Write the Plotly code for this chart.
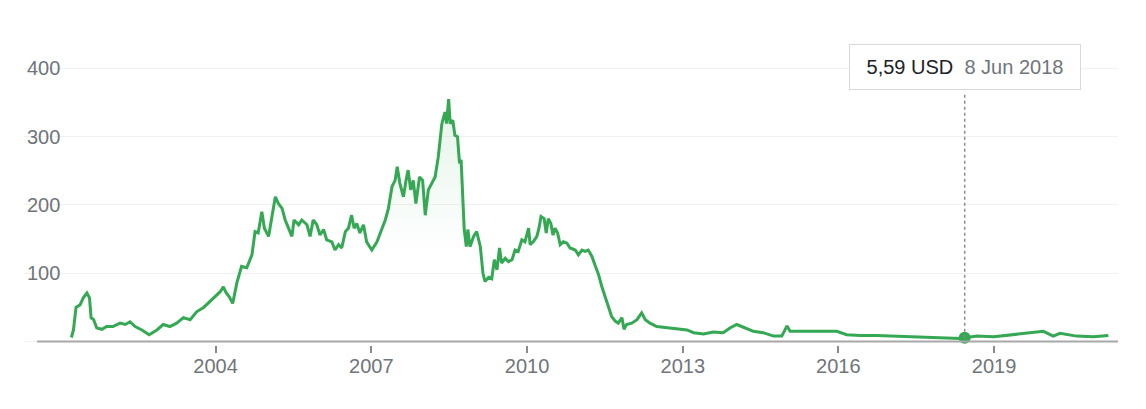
import plotly.graph_objects as go
import pandas as pd

# time as decimal years, price in USD
t_years = [2001.22, 2001.26, 2001.31, 2001.39, 2001.45, 2001.52, 2001.57, 2001.60, 2001.65, 2001.71,
           2001.81, 2001.90, 2002.02, 2002.16, 2002.26, 2002.35, 2002.45, 2002.58, 2002.72, 2002.87,
           2002.99, 2003.12, 2003.25, 2003.38, 2003.51, 2003.64, 2003.77, 2003.89, 2004.02, 2004.09,
           2004.15, 2004.20, 2004.26, 2004.33, 2004.41, 2004.50, 2004.60, 2004.70, 2004.76, 2004.82,
           2004.89, 2004.94, 2005.02, 2005.08, 2005.15, 2005.21, 2005.28, 2005.34, 2005.40, 2005.47,
           2005.51, 2005.60, 2005.66, 2005.76, 2005.82, 2005.88, 2005.95, 2006.01, 2006.08, 2006.14,
           2006.24, 2006.30, 2006.37, 2006.43, 2006.50, 2006.56, 2006.62, 2006.67, 2006.72, 2006.78,
           2006.85, 2006.91, 2007.01, 2007.11, 2007.20, 2007.27, 2007.33, 2007.40, 2007.46, 2007.50,
           2007.55, 2007.62, 2007.67, 2007.71, 2007.76, 2007.81, 2007.86, 2007.93, 2007.99, 2008.04,
           2008.10, 2008.17, 2008.23, 2008.29, 2008.36, 2008.42, 2008.45, 2008.49, 2008.52, 2008.57,
           2008.61, 2008.66, 2008.70, 2008.73, 2008.76, 2008.79, 2008.83, 2008.86, 2008.90, 2008.97,
           2009.03, 2009.10, 2009.15, 2009.19, 2009.26, 2009.32, 2009.37, 2009.42, 2009.47, 2009.51,
           2009.58, 2009.64, 2009.71, 2009.77, 2009.83, 2009.90, 2009.96, 2010.03, 2010.06, 2010.12,
           2010.19, 2010.23, 2010.27, 2010.33, 2010.37, 2010.41, 2010.46, 2010.50, 2010.54, 2010.59,
           2010.64, 2010.70, 2010.77, 2010.83, 2010.93, 2010.99, 2011.06, 2011.12, 2011.18, 2011.25,
           2011.31, 2011.38, 2011.44, 2011.50, 2011.57, 2011.63, 2011.70, 2011.76, 2011.83, 2011.87,
           2011.92, 2012.02, 2012.12, 2012.21, 2012.28, 2012.37, 2012.50, 2012.69, 2012.89, 2013.08,
           2013.21, 2013.40, 2013.59, 2013.78, 2013.91, 2014.04, 2014.17, 2014.36, 2014.55, 2014.75,
           2014.91, 2015.01, 2015.07, 2015.26, 2015.52, 2015.78, 2015.97, 2016.16, 2016.42, 2016.74,
           2017.06, 2017.38, 2017.70, 2018.02, 2018.35, 2018.44, 2018.67, 2018.99, 2019.31, 2019.63,
           2019.95, 2020.14, 2020.27, 2020.59, 2020.91, 2021.20]
price = [6, 17, 50, 54, 64, 71, 64, 35, 32, 20,
         18, 22, 22, 27, 25, 29, 22, 17, 10, 17,
         25, 22, 27, 35, 32, 44, 50, 59, 69, 73,
         80, 72, 66, 56, 86, 110, 108, 127, 161, 159,
         190, 166, 154, 183, 212, 202, 195, 178, 166, 154,
         178, 171, 178, 171, 154, 178, 171, 156, 164, 149,
         146, 134, 142, 137, 161, 166, 185, 166, 173, 159,
         171, 146, 134, 146, 164, 178, 195, 227, 236, 256,
         232, 212, 236, 251, 222, 236, 202, 241, 236, 185,
         222, 232, 241, 270, 319, 336, 319, 355, 319, 324,
         302, 300, 261, 266, 222, 164, 139, 164, 139, 154,
         161, 139, 100, 88, 94, 92, 120, 105, 137, 115,
         122, 117, 120, 134, 132, 149, 146, 166, 142, 146,
         154, 166, 183, 180, 159, 180, 173, 156, 166, 159,
         142, 146, 144, 137, 134, 127, 134, 132, 134, 125,
         112, 98, 81, 66, 52, 37, 30, 27, 35, 18,
         25, 27, 32, 42, 32, 27, 22, 20, 18, 17,
         13, 11, 14, 13, 20, 25, 21, 15, 13, 8,
         8, 23, 15, 15, 15, 16, 15, 10, 9, 9,
         8, 8, 7, 5, 4.5, 5.59, 8, 7, 10, 12,
         15, 8, 12, 8, 7, 9]

tick_years = [2004, 2007, 2010, 2013, 2016, 2019]
y_ticks = [0, 100, 200, 300, 400]

hl_date = "2018-06-08"
hl_value = 5.59
hl_price_text = "5,59 USD"
hl_date_text = "8 Jun 2018"


def to_ts(y):
    yr = int(y)
    start = pd.Timestamp(year=yr, month=1, day=1)
    end = pd.Timestamp(year=yr + 1, month=1, day=1)
    return start + (end - start) * (y - yr)


dates = [to_ts(v) for v in t_years]

GREEN = "#34a853"
GRAY_TXT = "#70757a"
FONT = "Arial, Liberation Sans, sans-serif"

fig = go.Figure()
fig.add_trace(go.Scatter(
    x=dates, y=price, mode="lines",
    line=dict(color=GREEN, width=3),
    fill="tozeroy",
    fillgradient=dict(type="vertical",
                      colorscale=[[0, "rgba(52,168,83,0)"], [0.35, "rgba(52,168,83,0)"],
                                  [1, "rgba(52,168,83,0.13)"]],
                      start=0, stop=360),
    hoverinfo="skip", showlegend=False,
))

# axis line at zero
fig.add_shape(type="line", xref="paper", yref="y", x0=0.012, x1=1, y0=0, y1=0,
              line=dict(color="#a8a8a8", width=2), layer="above")
# dotted crosshair
fig.add_shape(type="line", xref="x", yref="y", x0=hl_date, x1=hl_date, y0=hl_value, y1=365,
              line=dict(color="#8a8a8a", width=1.5, dash="dot"))

fig.add_trace(go.Scatter(
    x=[hl_date], y=[hl_value], mode="markers",
    marker=dict(color=GREEN, size=12), cliponaxis=False, showlegend=False, hoverinfo="skip",
))

# tooltip
fig.add_annotation(
    x=hl_date, xref="x", y=0.913, yref="paper", xanchor="center", yanchor="middle",
    text=(f"&nbsp;<span style='color:#202124'>{hl_price_text}</span>&nbsp;&nbsp;"
          f"<span style='color:{GRAY_TXT}'>{hl_date_text}</span>&nbsp;"),
    showarrow=False, font=dict(family=FONT, size=20),
    bgcolor="white", bordercolor="#d9d9d9", borderwidth=1, borderpad=11,
)

fig.update_layout(
    width=1138, height=401,
    margin=dict(l=16, r=28, t=33, b=64),
    paper_bgcolor="white", plot_bgcolor="white",
    font=dict(family=FONT, color=GRAY_TXT, size=20),
    xaxis=dict(
        type="date",
        range=["2000-04-23", "2021-05-22"],
        tickmode="array",
        tickvals=[f"{y}-01-01" for y in tick_years],
        ticktext=[str(y) for y in tick_years],
        ticks="outside", ticklen=7, tickwidth=1.5, tickcolor="#8a8a8a",
        ticklabelstandoff=-4,
        showgrid=False, zeroline=False, showline=False,
        tickfont=dict(size=20, color=GRAY_TXT),
    ),
    yaxis=dict(
        range=[-5, 440],
        tickmode="array", tickvals=y_ticks, ticktext=[str(v) for v in y_ticks],
        ticklabelposition="inside",
        showgrid=True, gridcolor="#f1f1f1", gridwidth=1,
        zeroline=False, showline=False,
        tickfont=dict(size=20, color=GRAY_TXT),
    ),
)

fig.write_html("out.html")
